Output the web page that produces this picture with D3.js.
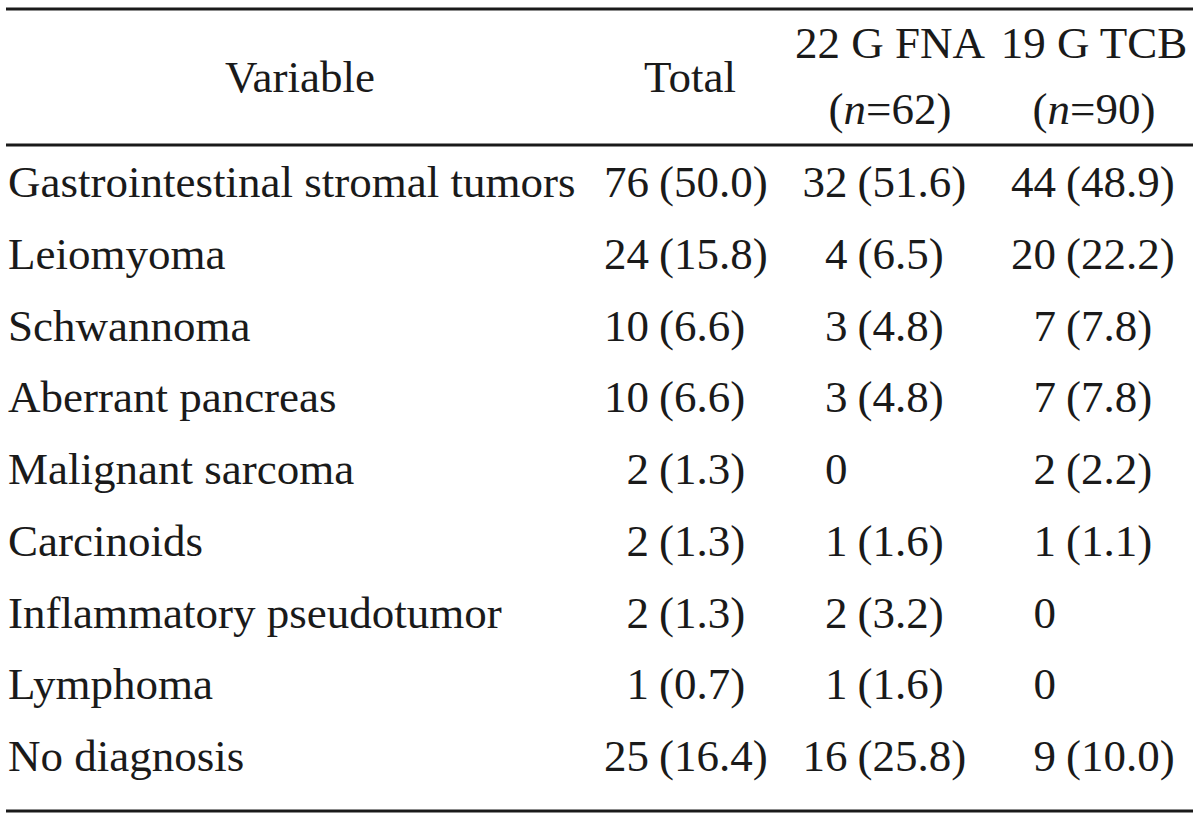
<!DOCTYPE html>
<html>
<head>
<meta charset="utf-8">
<script src="https://cdn.jsdelivr.net/npm/d3@7"></script>
<style>
  body { margin: 0; background: #fff; }
  text { font-family: "Liberation Serif", "Times New Roman", serif; fill: #1a1a1a; }
</style>
</head>
<body>
<script>
var width = 1200,
    height = 822,
    fontSize = 45;

// table content
var categories = ["Gastrointestinal stromal tumors", "Leiomyoma", "Schwannoma", "Aberrant pancreas",
    "Malignant sarcoma", "Carcinoids", "Inflammatory pseudotumor", "Lymphoma", "No diagnosis"];
var columns = ["total", "fna", "tcb"];
var headers = [
    {key: "total", line1: "Total", n: null},
    {key: "fna", line1: "22 G FNA", n: 62},
    {key: "tcb", line1: "19 G TCB", n: 90}
];
var totalN   = [76, 24, 10, 10, 2, 2, 2, 1, 25];
var totalPct = [50.0, 15.8, 6.6, 6.6, 1.3, 1.3, 1.3, 0.7, 16.4];
var fnaN     = [32, 4, 3, 3, 0, 1, 2, 1, 16];
var fnaPct   = [51.6, 6.5, 4.8, 4.8, null, 1.6, 3.2, 1.6, 25.8];
var tcbN     = [44, 20, 7, 7, 2, 1, 0, 0, 9];
var tcbPct   = [48.9, 22.2, 7.8, 7.8, 2.2, 1.1, null, null, 10.0];

var counts = {total: totalN, fna: fnaN, tcb: tcbN};
var pcts = {total: totalPct, fna: fnaPct, tcb: tcbPct};

var svg = d3.select("body").append("svg")
    .attr("width", width)
    .attr("height", height);

// row baselines
var y = d3.scalePoint()
    .domain(categories)
    .range([197, 771]);

// x anchor where the count ends (counts right aligned, percent follows)
var x = d3.scalePoint()
    .domain(columns)
    .range([649, 1056]);
var xOffset = {total: 0, fna: -5, tcb: 0};

// header centres
var hx = d3.scaleOrdinal()
    .domain(["variable"].concat(columns))
    .range([300, 690, 890, 1094]);

// rules
svg.selectAll(".rule")
    .data([9, 145, 811])
    .enter().append("line")
    .attr("class", "rule")
    .attr("x1", 6)
    .attr("x2", 1193)
    .attr("y1", function(d) { return d; })
    .attr("y2", function(d) { return d; })
    .style("stroke", "#1a1a1a")
    .style("stroke-width", 3.2);

// header
svg.append("text")
    .attr("x", hx("variable"))
    .attr("y", 92)
    .attr("text-anchor", "middle")
    .style("font-size", fontSize + "px")
    .text("Variable");

headers.forEach(function(h) {
    if (h.n === null) {
        svg.append("text")
            .attr("x", hx(h.key))
            .attr("y", 92)
            .attr("text-anchor", "middle")
            .style("font-size", fontSize + "px")
            .text(h.line1);
    } else {
        svg.append("text")
            .attr("x", hx(h.key))
            .attr("y", 58)
            .attr("text-anchor", "middle")
            .style("font-size", fontSize + "px")
            .text(h.line1);
        var t = svg.append("text")
            .attr("x", hx(h.key))
            .attr("y", 124)
            .attr("text-anchor", "middle")
            .style("font-size", fontSize + "px");
        t.append("tspan").text("(");
        t.append("tspan").style("font-style", "italic").text("n");
        t.append("tspan").text("=" + h.n + ")");
    }
});

// body
var row = svg.selectAll(".row")
    .data(categories)
    .enter().append("g")
    .attr("class", "row")
    .attr("transform", function(d) { return "translate(0," + y(d) + ")"; });

row.append("text")
    .attr("x", 8)
    .style("font-size", fontSize + "px")
    .text(function(d) { return d; });

columns.forEach(function(c) {
    row.append("text")
        .attr("x", x(c) + xOffset[c])
        .attr("text-anchor", "end")
        .style("font-size", fontSize + "px")
        .text(function(d, i) { return counts[c][i]; });

    row.filter(function(d, i) { return pcts[c][i] !== null; })
        .append("text")
        .attr("x", x(c) + xOffset[c] + 10)
        .style("font-size", fontSize + "px")
        .text(function(d) { var i = categories.indexOf(d); return "(" + d3.format(".1f")(pcts[c][i]) + ")"; });
});
</script>
</body>
</html>
